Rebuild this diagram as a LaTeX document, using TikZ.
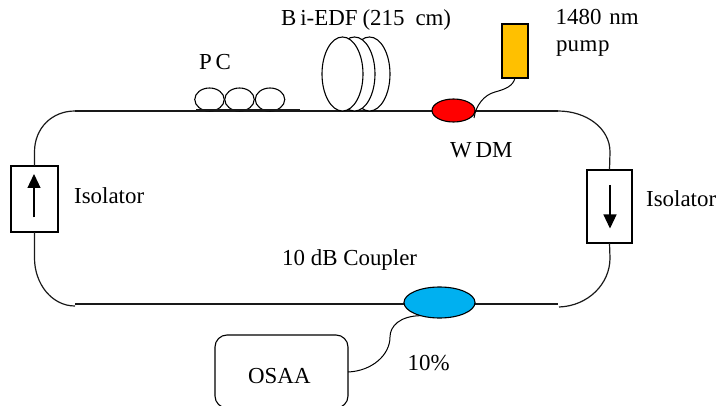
\documentclass[tikz,border=0pt]{standalone}
\usepackage{fontspec}
\setmainfont{Liberation Serif}
\usetikzlibrary{shapes.geometric,arrows.meta}
\tikzset{
  fibre/.style={line width=1.2pt,black!90},
  comp/.style={draw=black,line width=1.1pt,inner sep=0pt,outer sep=0pt},
  oval/.style={comp,ellipse},
  isobox/.style={comp,fill=white,rectangle,minimum width=#1},
  flow/.style={line width=1.2pt,-{Triangle[length=14pt,width=13pt]}},
  lab/.style={anchor=base west,inner sep=0pt,font=\fontsize{22.9}{24}\selectfont},
}
\begin{document}
\begin{tikzpicture}[x=1pt,y=-1pt]
\useasboundingbox (0,0) rectangle (720,406);
% components
\node[isobox=47pt,minimum height=66pt] (isoL) at (34.5,199) {};
\node[isobox=45pt,minimum height=73pt] (isoR) at (609.5,206.5) {};
\node[comp,rectangle,fill=white,rounded corners=12pt,minimum width=133pt,minimum height=73pt] (osaa) at (281.5,371.5) {};
\node[comp,rectangle,fill={rgb,255:red,255;green,192;blue,0},minimum width=26pt,minimum height=54pt] (pump) at (515,51) {};
\coordinate (tl) at (75,111);
\coordinate (tr) at (558,111);
\coordinate (bl) at (75,304);
\coordinate (br) at (558,304);
\coordinate (blc) at (75,306);
\coordinate (brc) at (559,307);
% fibre loop
\draw[fibre] (isoL.north) -- (34.5,152) .. controls (34.5,128) and (52,111) .. (tl);
\draw[fibre] (tl) -- (tr);
\draw[fibre] (tr) .. controls (586,111) and (610,128) .. (610,152) -- (isoR.north);
\draw[fibre] (isoR.south) -- (610,258) .. controls (610,284) and (588,306) .. (brc);
\draw[fibre] (isoL.south) -- (34.5,258) .. controls (34.5,284) and (52,306) .. (blc);
\draw[fibre] (bl) -- (br);
% PC
\foreach \n/\x in {pa/209.5,pb/239.5,pc/270}{
  \node[oval,fill=white,minimum width=29.5pt,minimum height=23pt] (\n) at (\x,99.5) {};
}
\coordinate (pcstart) at (196,110);
\coordinate (pcend) at (300,110);
\draw[fibre] (pcstart) -- (pcend);
% coil
\foreach \n/\x in {cc/369.5,cb/354.5,ca/342.5}{
  \node[oval,fill=white,minimum width=41pt,minimum height=74pt] (\n) at (\x,74) {};
}
% couplers
\node[oval,fill=red,minimum width=43pt,minimum height=23pt] (wdm) at (453.5,110.5) {};
\node[oval,fill={rgb,255:red,0;green,176;blue,240},minimum width=71pt,minimum height=31pt] (cpl) at (439.5,302.5) {};
\coordinate (wdmtail) at (474,118);
\draw[line width=1pt] (wdmtail) .. controls (476,105) and (484,95) .. (495,92) .. controls (506,89) and (513,86) .. (pump.south);
\draw[line width=1pt] (osaa.east |- 0,372) .. controls (372,371) and (390,355) .. (390,337) .. controls (390,326) and (400,316) .. (cpl.-145);
% arrows
\coordinate (aL1) at (34,217.5); \coordinate (aL2) at (34,174);
\coordinate (aR1) at (610,185); \coordinate (aR2) at (610,228.5);
\draw[flow] (aL1) -- (aL2);
\draw[flow] (aR1) -- (aR2);
% labels
\node[lab] (tPC) at (199,70) {P\,C};
\node[lab] (tEDF) at (281,26) {B\,i-EDF\hspace{5pt}(215\hspace{11pt}cm)};
\node[lab] (tP1) at (555.5,25) {1480\hspace{8pt}nm};
\node[lab] (tP2) at (556,52) {pu\kern.6pt m\kern.6pt p};
\node[lab] (tW) at (450,158) {W\,DM};
\node[lab] (tIL) at (74,204) {Isolator};
\node[lab] (tIR) at (646,207) {Isolator};
\node[lab] (tC) at (282,265) {10 dB Coupler};
\node[lab] (tO) at (248,383) {OSAA};
\node[lab] (tT) at (407.5,370) {10\%};
\end{tikzpicture}
\end{document}
